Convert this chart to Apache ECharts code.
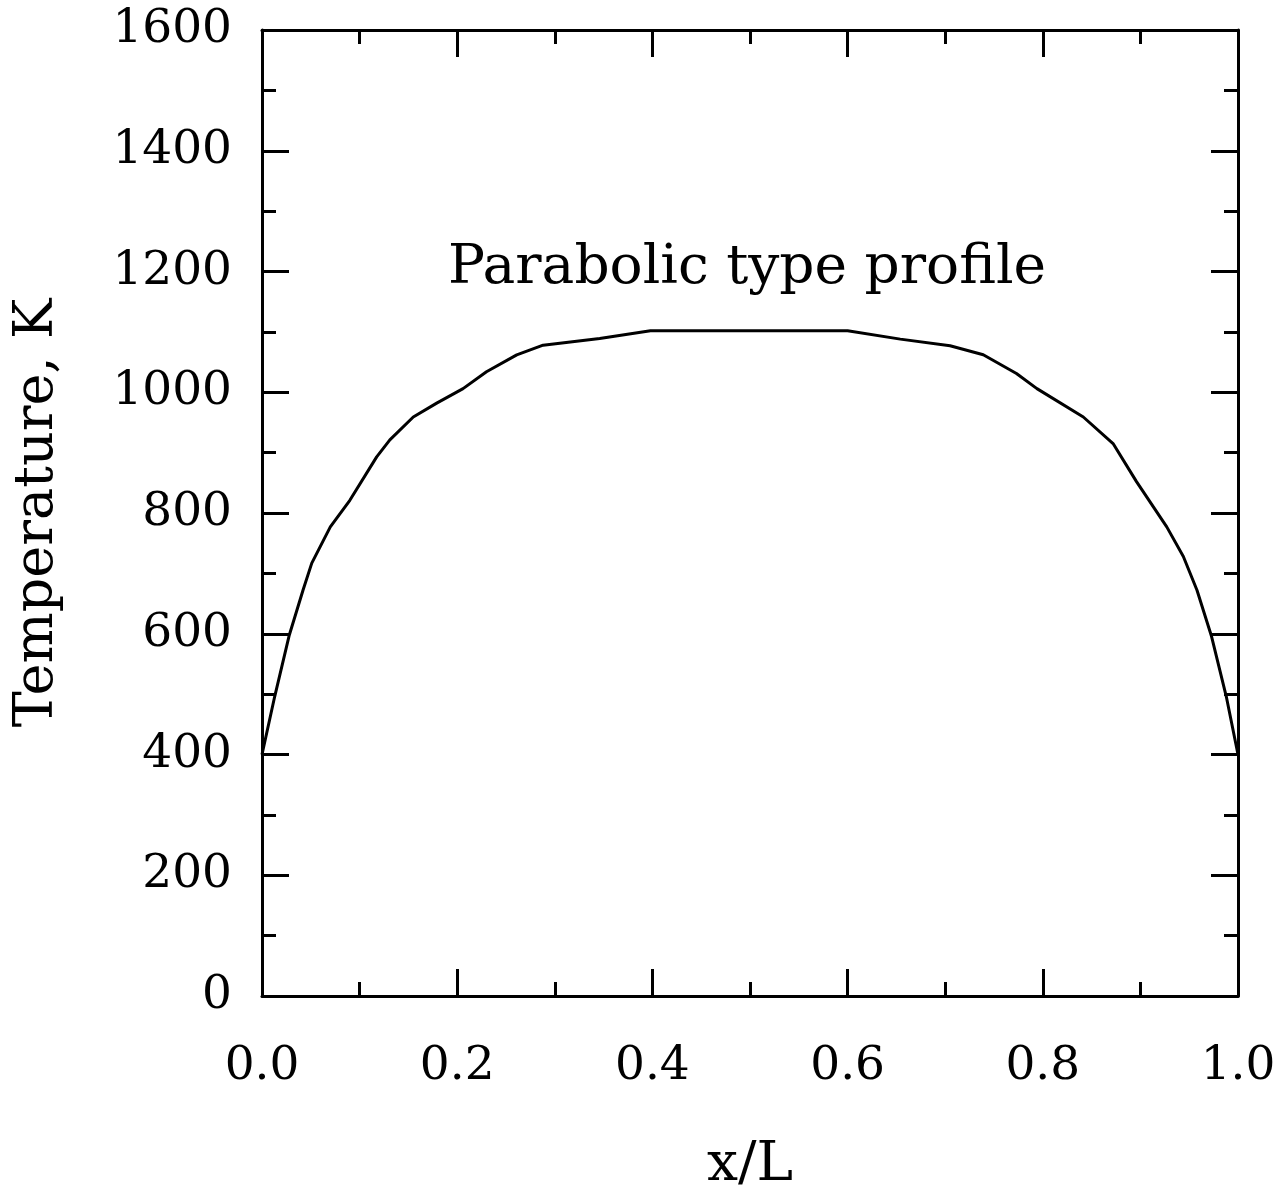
<!DOCTYPE html>
<html>
<head>
<meta charset="utf-8">
<script src="https://cdn.jsdelivr.net/npm/echarts@6/dist/echarts.min.js"></script>
<style>
html,body{margin:0;padding:0;background:#fff;}
#main{width:1287px;height:1204px;}
</style>
</head>
<body>
<div id="main"></div>
<script>
// Data
const xPos = [0, 0.013, 0.028, 0.042, 0.051, 0.07, 0.09, 0.1175, 0.131, 0.155, 0.179, 0.206, 0.23, 0.261, 0.288, 0.346, 0.398, 0.6, 0.654, 0.705, 0.739, 0.773, 0.794, 0.8415, 0.872, 0.896, 0.927, 0.944, 0.958, 0.973, 0.988, 1.0];
const temperature = [400, 496, 598, 672, 717, 777, 821, 893, 921, 959, 982, 1006, 1034, 1062, 1078, 1089, 1102, 1102, 1088, 1077, 1062, 1031, 1006, 959, 915, 852, 777, 728, 672, 595, 496, 400];
const annotation = "Parabolic type profile";
const xName = "x/L";
const yName = "Temperature, K";

const FONT = "DejaVu Serif";
const points = xPos.map((x, i) => [x, temperature[i]]);

const axisCommon = {
  axisLine: { show: true, onZero: false, lineStyle: { color: '#000', width: 3 } },
  axisTick: { show: true, inside: true, length: 27, lineStyle: { color: '#000', width: 3 } },
  minorTick: { show: true, splitNumber: 2, length: 14, lineStyle: { color: '#000', width: 3 } },
  splitLine: { show: false }
};

const chart = echarts.init(document.getElementById('main'));
chart.setOption({
  backgroundColor: '#fff',
  animation: false,
  title: {
    text: annotation,
    left: 443, top: 236,
    textStyle: { fontFamily: FONT, fontSize: 55, fontWeight: 'normal', color: '#000' }
  },
  grid: { left: 262, right: 49, top: 30, bottom: 208, containLabel: false },
  xAxis: [
    Object.assign({
      type: 'value', min: 0, max: 1, interval: 0.2, position: 'bottom',
      name: xName, nameLocation: 'middle', nameGap: 142,
      nameTextStyle: { fontFamily: FONT, fontSize: 55, color: '#000' },
      axisLabel: { margin: 47, fontFamily: FONT, fontSize: 47, color: '#000',
        formatter: v => v.toFixed(1) }
    }, axisCommon),
    Object.assign({
      type: 'value', min: 0, max: 1, interval: 0.2, position: 'top',
      axisLabel: { show: false }
    }, axisCommon)
  ],
  yAxis: [
    Object.assign({
      type: 'value', min: 0, max: 1600, interval: 200, position: 'left',
      name: yName, nameLocation: 'middle', nameGap: 197,
      nameTextStyle: { fontFamily: FONT, fontSize: 54, color: '#000' },
      axisLabel: { margin: 30, fontFamily: FONT, fontSize: 47, color: '#000',
        formatter: v => String(v) }
    }, axisCommon),
    Object.assign({
      type: 'value', min: 0, max: 1600, interval: 200, position: 'right',
      axisLabel: { show: false }
    }, axisCommon)
  ],
  series: [{
    type: 'line',
    xAxisIndex: 0, yAxisIndex: 0,
    data: points,
    showSymbol: false,
    smooth: false,
    lineStyle: { color: '#000', width: 3 }
  }]
});
</script>
</body>
</html>
